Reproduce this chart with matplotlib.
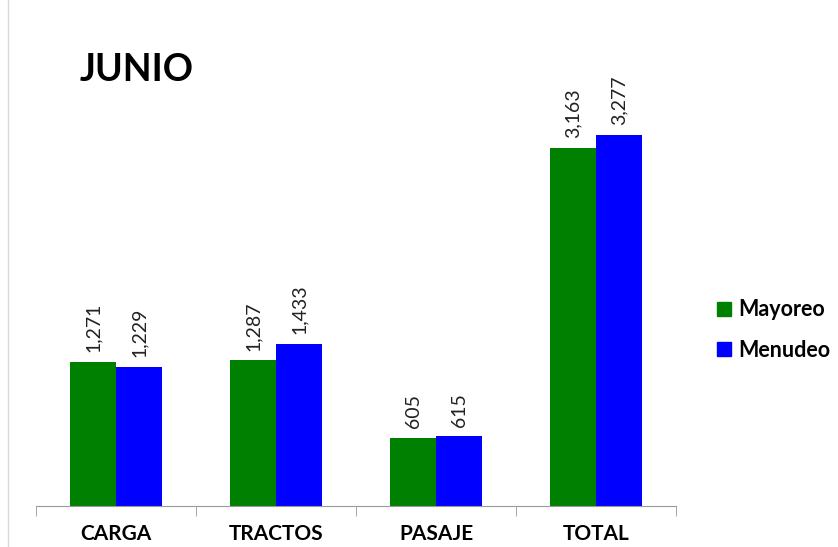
import numpy as np
import matplotlib
matplotlib.use("Agg")
import matplotlib.pyplot as plt
from matplotlib.lines import Line2D

plt.rcParams['font.family'] = ['Lato', 'DejaVu Sans']

categories = ["CARGA", "TRACTOS", "PASAJE", "TOTAL"]
mayoreo = [1271, 1287, 605, 3163]
menudeo = [1229, 1433, 615, 3277]
series_names = ["Mayoreo", "Menudeo"]
colors = ["#008000", "#0000FF"]

fig = plt.figure(figsize=(8.38, 5.47), dpi=100)
ax = fig.add_axes([0.043, 0.075, 0.764, 0.87])

x = np.arange(len(categories))
w = 0.2875
b1 = ax.bar(x - w / 2, mayoreo, w, color=colors[0], label=series_names[0])
b2 = ax.bar(x + w / 2, menudeo, w, color=colors[1], label=series_names[1])

# value labels, rotated like the original
for bars, vals in [(b1, mayoreo), (b2, menudeo)]:
    for r, v in zip(bars, vals):
        ax.annotate(f"{v:,}", (r.get_x() + r.get_width() / 2, v),
                    xytext=(0, 7), textcoords="offset points",
                    rotation=90, ha="center", va="bottom", fontsize=14,
                    color="#222222")

ax.set_xlim(-0.5, len(categories) - 0.5)
ax.set_ylim(0, 4205)
ax.set_yticks([])
for s in ["top", "right", "left"]:
    ax.spines[s].set_visible(False)
ax.spines["bottom"].set_color("#999999")
ax.set_xticks(x)
ax.set_xticklabels(categories, fontsize=15, fontweight="bold")
ax.tick_params(axis="x", which="major", length=0, pad=13)
ax.set_xticks(np.arange(-0.5, len(categories)), minor=True)
ax.tick_params(axis="x", which="minor", length=7, color="#999999", direction="out")

ax.text(-0.23, 3850, "JUNIO", fontsize=27, fontweight="bold", va="center")

handles = [Line2D([0], [0], marker="s", linestyle="", markersize=10,
                  color=c) for c in colors]
fig.legend(handles, series_names, loc="center left",
           bbox_to_anchor=(0.829, 0.397), frameon=False,
           prop={"size": 15.5, "weight": "bold"}, handletextpad=0.2,
           labelspacing=0.9, handlelength=0.9)

fig.add_artist(Line2D([0.009, 0.009], [0, 1], color="#d9d9d9", lw=1))

fig.savefig("out.png", dpi=100)
